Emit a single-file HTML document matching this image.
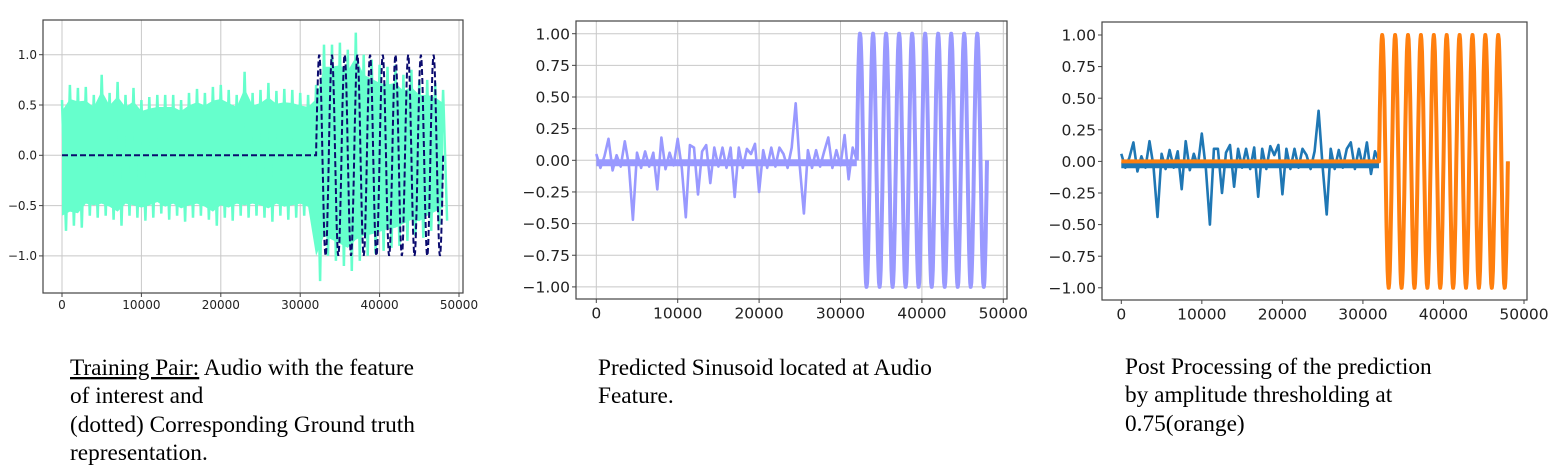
<!DOCTYPE html>
<html><head><meta charset="utf-8"><style>
html,body{margin:0;padding:0;background:#fff}
svg{display:block}
</style></head><body>
<svg id="fig" width="1568" height="475" xmlns="http://www.w3.org/2000/svg">
<rect width="1568" height="475" fill="#fff"/>
<g id="p1"></g>
<g id="p2"></g>
<g id="p3"></g>
<g font-family="'Liberation Serif', serif" font-size="23.3" fill="#000">
<text x="70" y="375"><tspan text-decoration="underline">Training Pair:</tspan> Audio with the feature</text>
<text x="70" y="403">of interest and</text>
<text x="70" y="432">(dotted) Corresponding Ground truth</text>
<text x="70" y="460">representation.</text>
<text x="598" y="375">Predicted Sinusoid located at Audio</text>
<text x="598" y="403">Feature.</text>
<text x="1125" y="374">Post Processing of the prediction</text>
<text x="1125" y="402">by amplitude thresholding at</text>
<text x="1125" y="431">0.75(orange)</text>
</g>
</svg>
<script>
// ---- data ----
const xTicks = [0, 10000, 20000, 30000, 40000, 50000];
const yTicks1 = [-1, -0.5, 0, 0.5, 1];
const yTickLabels1 = ["\u22121.0", "\u22120.5", "0.0", "0.5", "1.0"];
const yTicks23 = [-1, -0.75, -0.5, -0.25, 0, 0.25, 0.5, 0.75, 1];
const yTickLabels23 = ["\u22121.00", "\u22120.75", "\u22120.50", "\u22120.25", "0.00", "0.25", "0.50", "0.75", "1.00"];
// sinusoid extrema (sample index)
const sinePeaks = [32400, 34000, 35600, 37200, 38800, 40400, 42000, 43600, 45200, 46800];
const sineTroughs = [33200, 34800, 36400, 38000, 39600, 41200, 42800, 44400, 46000, 47600];
const sineStart = 32000;
const sineEnd = 48000;
// panel 1 audio noise envelope (step 1000)
const audioHi = [0.55,0.7,0.67,0.68,0.6,0.8,0.62,0.73,0.6,0.67,0.55,0.58,0.6,0.6,0.6,0.55,0.62,0.66,0.62,0.68,0.7,0.65,0.6,0.83,0.62,0.65,0.72,0.64,0.66,0.65,0.62,0.6,0.7,1.1,1.1,1.12,1.05,1.22,1.0,0.95,0.9,0.88,0.9,0.8,0.85,0.75,0.75,0.72,0.65];
const audioLo = [-0.75,-0.7,-0.72,-0.6,-0.62,-0.6,-0.64,-0.7,-0.6,-0.62,-0.65,-0.62,-0.58,-0.64,-0.6,-0.66,-0.62,-0.6,-0.64,-0.7,-0.62,-0.65,-0.6,-0.62,-0.6,-0.62,-0.66,-0.6,-0.64,-0.62,-0.6,-0.64,-1.25,-1.0,-1.05,-1.1,-1.15,-1.05,-1.0,-0.98,-0.95,-0.92,-0.9,-0.85,-0.8,-0.82,-0.75,-0.7,-0.65];
// panel 2 prediction before sinusoid (step 500)
const predSmall = [0.05,-0.06,0.03,0.17,-0.08,0.04,-0.05,0.15,-0.04,-0.47,0.06,-0.06,0.07,-0.05,0.06,-0.23,0.18,-0.07,0.06,-0.04,0.17,-0.06,-0.45,0.12,0.1,-0.27,0.07,0.12,-0.18,0.1,-0.05,0.1,-0.06,0.1,-0.29,0.1,-0.06,0.09,0.05,0.13,-0.25,0.08,-0.06,0.1,-0.05,0.1,0.05,-0.06,0.1,0.45,-0.05,-0.42,0.08,-0.06,0.08,-0.05,0.07,0.18,-0.06,0.08,-0.04,0.2,-0.15,0.1,0.0];
// panel 3 prediction before sinusoid (step 500)
const post = [0.06,-0.05,0.03,0.15,-0.08,0.04,-0.05,0.16,-0.04,-0.44,0.06,-0.06,0.09,-0.05,0.08,-0.22,0.16,-0.07,0.06,-0.04,0.22,-0.06,-0.5,0.1,0.1,-0.25,0.07,0.13,-0.2,0.1,-0.05,0.1,-0.06,0.11,-0.28,0.1,-0.06,0.12,0.05,0.13,-0.26,0.1,-0.06,0.1,-0.05,0.1,0.05,-0.06,0.08,0.4,-0.05,-0.42,0.1,-0.06,0.09,-0.05,0.1,0.15,-0.06,0.1,-0.04,0.15,-0.1,0.08,0.0];

const NS = "http://www.w3.org/2000/svg";
function el(parent, tag, attrs) {
  const e = document.createElementNS(NS, tag);
  for (const k in attrs) e.setAttribute(k, attrs[k]);
  parent.appendChild(e);
  return e;
}
function sinePoints() {
  const ext = [];
  sinePeaks.forEach(x => ext.push([x, 1]));
  sineTroughs.forEach(x => ext.push([x, -1]));
  ext.sort((a, b) => a[0] - b[0]);
  const pts = [[0, 0], [sineStart, 0]];
  let prev = [sineStart, 0];
  const all = ext.concat([[sineEnd, 0]]);
  all.forEach((p, i) => {
    const n = 12;
    for (let k = 1; k <= n; k++) {
      const t = k / n;
      const x = prev[0] + (p[0] - prev[0]) * t;
      let y;
      if (i === 0) y = Math.sin(t * Math.PI / 2) * p[1];
      else if (i === all.length - 1) y = prev[1] * Math.cos(t * Math.PI / 2);
      else y = prev[1] + (p[1] - prev[1]) * (1 - Math.cos(t * Math.PI)) / 2;
      pts.push([x, y]);
    }
    prev = p;
  });
  return pts;
}
function axes(g, c) {
  const X = v => c.x0 + (v / 50000) * (c.x50 - c.x0);
  const Y = v => c.y0 - v * (c.y0 - c.y1);
  if (c.grid) {
    xTicks.forEach(t => { const l = el(g, "line", {x1: X(t), x2: X(t), y1: c.top, y2: c.bottom, stroke: "#c8c8c8", "stroke-width": 1});
        });
    c.yt.forEach(t => { const l = el(g, "line", {x1: c.left, x2: c.right, y1: Y(t), y2: Y(t), stroke: "#c8c8c8", "stroke-width": 1});
        });
  }
  return {X, Y};
}
function frame(g, c, X, Y) {
  const r = el(g, "rect", {x: c.left, y: c.top, width: c.right - c.left, height: c.bottom - c.top, fill: "none", stroke: "#444", "stroke-width": 1.2});
   
  xTicks.forEach(t => {
    el(g, "line", {x1: X(t), x2: X(t), y1: c.bottom, y2: c.bottom + 4, stroke: "#444"});
    const tx = el(g, "text", {x: X(t), y: c.bottom + 4 + c.fs, "text-anchor": "middle", "font-size": c.fs, "font-family": "'DejaVu Sans', sans-serif", fill: "#222"});
    tx.textContent = t;
     
  });
  c.yt.forEach((t, i) => {
    el(g, "line", {x1: c.left - 4, x2: c.left, y1: Y(t), y2: Y(t), stroke: "#444"});
    const tx = el(g, "text", {x: c.left - 6, y: Y(t) + c.fs * 0.36, "text-anchor": "end", "font-size": c.fs, "font-family": "'DejaVu Sans', sans-serif", fill: "#222"});
    tx.textContent = c.yl[i];
     
  });
}
function pathD(pts, X, Y) { return pts.map((p, i) => (i ? "L" : "M") + X(p[0]).toFixed(1) + " " + Y(p[1]).toFixed(1)).join(""); }

// Panel 1
(function () {
  const g = document.getElementById("p1");
  const c = {left: 43, right: 463, top: 20, bottom: 293, x0: 62, x50: 459, y0: 155.3, y1: 54.7, grid: true, yt: yTicks1, yl: yTickLabels1, fs: 12};
  const {X, Y} = axes(g, c);
  const up = [], dn = [];
  audioHi.forEach((v, i) => up.push([i * 1000, v * 0.8]));
  audioLo.forEach((v, i) => dn.push([i * 1000, v * 0.8]));
  const band = el(g, "path", {d: pathD(up.concat(dn.reverse()), X, Y) + "Z", fill: "#66ffcc", stroke: "none"});
   
  const zz = [];
  audioHi.forEach((v, i) => { zz.push([i * 1000, v]); zz.push([i * 1000 + 500, audioLo[i]]); });
  const line = el(g, "path", {d: pathD(zz, X, Y), fill: "none", stroke: "#66ffcc", "stroke-width": 2.5});
   
  const gt = el(g, "path", {d: pathD(sinePoints(), X, Y), fill: "none", stroke: "#0b0b6e", "stroke-width": 2, "stroke-dasharray": "6 3"});
   
  frame(g, c, X, Y);
})();

// Panel 2
(function () {
  const g = document.getElementById("p2");
  const c = {left: 576, right: 1007, top: 21, bottom: 299, x0: 596.3, x50: 1003.3, y0: 160.3, y1: 33.7, grid: true, yt: yTicks23, yl: yTickLabels23, fs: 15.5};
  const {X, Y} = axes(g, c);
  const base = el(g, "path", {d: pathD([[0, -0.02], [sineStart, -0.02]], X, Y), stroke: "#9999ff", "stroke-width": 7, fill: "none"});
   
  const pts = predSmall.map((v, i) => [i * 500, v]);
  const p = el(g, "path", {d: pathD(pts, X, Y), fill: "none", stroke: "#9999ff", "stroke-width": 2.6, "stroke-linejoin": "round"});
   
  const s = sinePoints().filter(q => q[0] >= sineStart);
  const ps = el(g, "path", {d: pathD(s, X, Y), fill: "none", stroke: "#9999ff", "stroke-width": 4, "stroke-linejoin": "round"});
   
  frame(g, c, X, Y);
})();

// Panel 3
(function () {
  const g = document.getElementById("p3");
  const c = {left: 1102, right: 1527, top: 22, bottom: 300, x0: 1121.3, x50: 1524, y0: 161.4, y1: 35, grid: false, yt: yTicks23, yl: yTickLabels23, fs: 15.5};
  const {X, Y} = axes(g, c);
  const base = el(g, "path", {d: pathD([[0, -0.03], [sineStart, -0.03]], X, Y), stroke: "#1f77b4", "stroke-width": 6, fill: "none"});
   
  const pts = post.map((v, i) => [i * 500, v]);
  const s = sinePoints().filter(q => q[0] >= sineStart);
  const b = el(g, "path", {d: pathD(pts.concat(s), X, Y), fill: "none", stroke: "#1f77b4", "stroke-width": 2.6, "stroke-linejoin": "round"});
   
  const o = el(g, "path", {d: pathD(sinePoints(), X, Y), fill: "none", stroke: "#ff7f0e", "stroke-width": 4, "stroke-linejoin": "round"});
   
  frame(g, c, X, Y);
})();
</script>
</body></html>
